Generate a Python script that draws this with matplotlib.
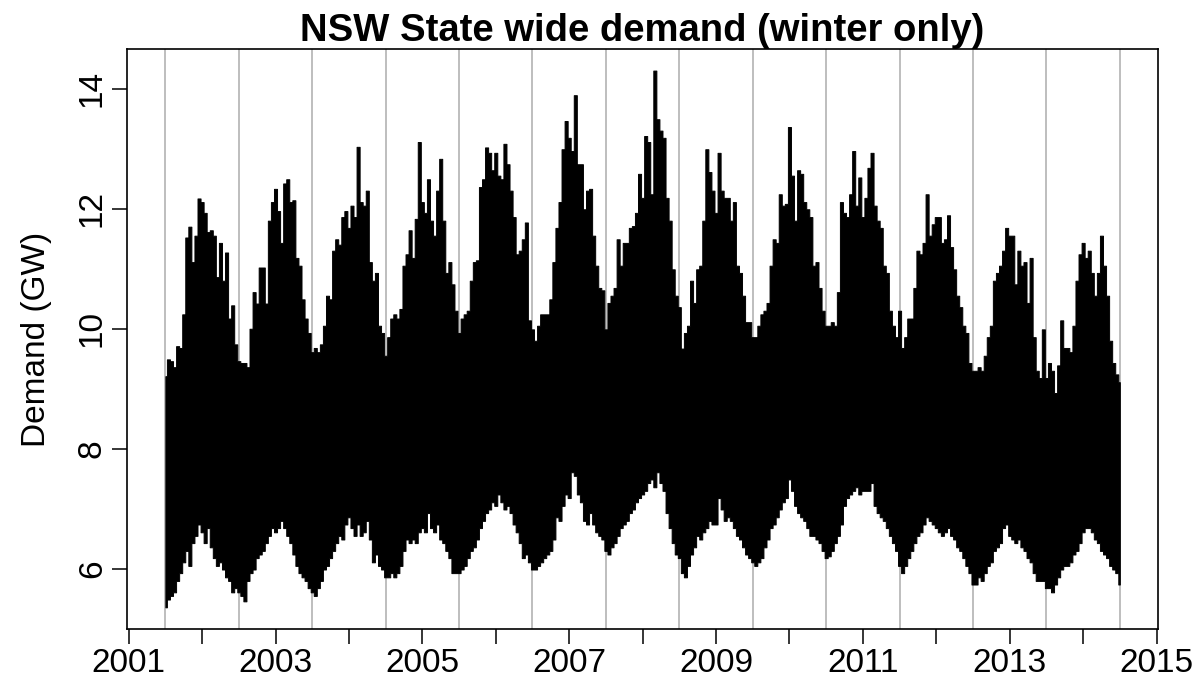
import matplotlib
matplotlib.use("Agg")
import matplotlib.pyplot as plt
import numpy as np

plt.rcParams["font.family"] = ["Liberation Sans", "DejaVu Sans"]

# half-monthly envelope of the demand series (GW)
START_YEAR = 2001.5
STEP = 1 / 24

upper_gw = [
    9.21, 9.49, 9.46, 9.36, 9.71, 9.68, 10.24, 11.52, 11.70, 11.11, 11.55, 12.17, 12.11, 11.93, 11.61, 11.64, 11.55, 10.86, 11.43, 10.80, 11.27, 10.17, 10.39, 9.74,
    9.46, 9.43, 9.43, 9.36, 10.00, 10.61, 10.42, 11.02, 11.02, 10.42, 11.80, 12.11, 12.33, 11.96, 11.43, 12.42, 12.49, 12.11, 12.14, 11.18, 11.05, 10.49, 10.17, 9.93,
    9.61, 9.68, 9.61, 9.74, 10.05, 10.55, 10.49, 11.30, 11.49, 11.40, 11.86, 11.96, 11.68, 12.05, 11.86, 13.03, 12.11, 12.05, 12.30, 11.11, 10.80, 10.93, 10.05, 9.93,
    9.55, 9.86, 10.17, 10.24, 10.17, 10.33, 11.05, 11.24, 11.64, 11.18, 11.83, 13.11, 12.11, 11.93, 12.49, 11.80, 11.55, 12.30, 12.83, 11.80, 10.93, 11.11, 10.74, 10.30,
    9.93, 10.17, 10.24, 10.30, 10.80, 11.11, 11.14, 12.36, 12.49, 13.02, 12.93, 12.64, 12.93, 12.55, 12.49, 13.08, 12.74, 12.30, 11.86, 11.24, 11.30, 11.49, 11.77, 10.14,
    9.99, 9.80, 10.05, 10.24, 10.24, 10.24, 10.49, 11.11, 11.68, 12.11, 12.99, 13.46, 13.18, 12.96, 13.89, 12.74, 12.74, 11.99, 12.30, 12.33, 11.55, 11.05, 10.68, 10.64,
    9.99, 10.43, 10.55, 10.68, 11.49, 11.05, 11.43, 11.43, 11.68, 11.71, 11.93, 12.58, 12.18, 13.21, 13.11, 12.24, 14.30, 13.49, 13.30, 13.18, 12.18, 11.80, 10.99, 10.55,
    10.36, 9.67, 9.93, 10.05, 10.80, 10.43, 10.99, 11.05, 11.80, 12.99, 12.61, 12.30, 11.93, 12.93, 12.30, 12.18, 12.18, 11.80, 12.11, 11.05, 10.93, 10.55, 10.11, 10.11,
    9.86, 9.86, 10.05, 10.24, 10.30, 10.43, 11.05, 11.49, 11.43, 12.24, 12.05, 12.08, 13.36, 12.55, 11.80, 12.64, 12.58, 12.11, 11.99, 11.86, 11.05, 11.11, 10.68, 10.30,
    10.05, 10.05, 10.11, 10.05, 10.61, 12.11, 11.93, 11.86, 12.24, 12.96, 12.05, 12.52, 11.86, 12.18, 12.68, 12.93, 12.05, 11.80, 11.68, 11.05, 10.93, 10.30, 10.05, 9.86,
    10.30, 9.68, 9.86, 10.17, 10.17, 10.68, 11.30, 11.24, 11.43, 12.24, 11.55, 11.74, 11.86, 11.86, 11.43, 11.49, 11.89, 11.36, 10.99, 10.55, 10.36, 10.05, 9.93, 9.43,
    9.30, 9.30, 9.36, 9.30, 9.55, 9.86, 10.05, 10.80, 10.93, 11.05, 11.30, 11.68, 11.55, 11.55, 10.74, 11.30, 11.05, 11.11, 10.43, 11.18, 9.86, 9.30, 9.18, 9.99,
    9.18, 9.43, 9.30, 8.93, 9.39, 10.14, 9.68, 9.68, 9.61, 10.05, 10.80, 11.24, 11.43, 11.18, 11.30, 10.93, 10.55, 10.93, 11.55, 11.05, 10.55, 9.80, 9.43, 9.24, 9.11,
]

lower_gw = [
    5.36, 5.49, 5.55, 5.61, 5.80, 5.93, 6.11, 6.30, 6.05, 6.43, 6.55, 6.74, 6.61, 6.43, 6.68, 6.36, 6.18, 6.05, 6.11, 5.99, 5.86, 5.80, 5.61, 5.68,
    5.61, 5.55, 5.46, 5.80, 5.93, 5.99, 6.18, 6.24, 6.30, 6.43, 6.55, 6.68, 6.61, 6.68, 6.80, 6.68, 6.55, 6.43, 6.24, 6.05, 5.93, 5.86, 5.80, 5.68,
    5.61, 5.55, 5.68, 5.80, 5.99, 6.05, 6.18, 6.30, 6.43, 6.55, 6.49, 6.74, 6.86, 6.68, 6.55, 6.74, 6.55, 6.61, 6.80, 6.49, 6.11, 6.24, 6.05, 5.99,
    5.86, 5.86, 5.93, 5.86, 5.93, 6.05, 6.30, 6.49, 6.43, 6.49, 6.43, 6.61, 6.68, 6.61, 6.93, 6.68, 6.61, 6.74, 6.49, 6.43, 6.30, 6.18, 5.93, 5.93,
    5.93, 5.99, 6.05, 6.18, 6.30, 6.36, 6.49, 6.68, 6.80, 6.93, 6.99, 7.11, 7.05, 7.24, 7.11, 6.99, 7.05, 6.93, 6.74, 6.61, 6.43, 6.18, 6.24, 6.11,
    5.99, 5.99, 6.05, 6.11, 6.18, 6.24, 6.30, 6.49, 6.86, 6.80, 7.05, 7.24, 7.18, 7.61, 7.55, 7.24, 7.11, 6.80, 6.74, 6.93, 6.74, 6.61, 6.55, 6.49,
    6.30, 6.24, 6.36, 6.43, 6.55, 6.68, 6.74, 6.80, 6.93, 6.99, 7.11, 7.18, 7.24, 7.30, 7.43, 7.49, 7.36, 7.61, 7.43, 7.30, 6.93, 6.68, 6.43, 6.24,
    6.18, 5.93, 5.86, 6.05, 6.24, 6.36, 6.55, 6.49, 6.61, 6.68, 6.80, 6.74, 6.74, 7.18, 6.99, 6.80, 6.86, 6.80, 6.68, 6.55, 6.49, 6.36, 6.24, 6.18,
    6.11, 6.05, 6.11, 6.18, 6.36, 6.49, 6.68, 6.74, 6.86, 6.99, 7.11, 7.18, 7.49, 7.30, 7.05, 6.93, 6.86, 6.80, 6.68, 6.55, 6.55, 6.49, 6.43, 6.30,
    6.18, 6.21, 6.30, 6.43, 6.55, 6.74, 7.05, 7.18, 7.24, 7.30, 7.36, 7.24, 7.30, 7.30, 7.30, 7.43, 7.05, 6.93, 6.86, 6.80, 6.68, 6.55, 6.43, 6.30,
    6.05, 5.93, 6.05, 6.18, 6.30, 6.43, 6.55, 6.61, 6.74, 6.86, 6.80, 6.74, 6.68, 6.61, 6.55, 6.61, 6.68, 6.55, 6.49, 6.36, 6.30, 6.18, 6.05, 5.93,
    5.74, 5.74, 5.86, 5.80, 5.93, 6.05, 6.11, 6.30, 6.36, 6.43, 6.68, 6.74, 6.55, 6.49, 6.43, 6.49, 6.36, 6.30, 6.18, 6.11, 5.93, 5.80, 5.80, 5.80,
    5.68, 5.68, 5.61, 5.74, 5.86, 5.99, 6.05, 6.05, 6.11, 6.24, 6.30, 6.43, 6.61, 6.68, 6.68, 6.61, 6.49, 6.43, 6.30, 6.24, 6.18, 6.05, 5.99, 5.93, 5.74,
]

winter_marks = [2001.5 + i for i in range(14)]
year_ticks = list(range(2001, 2016))
year_labels = [str(y) if y % 2 == 1 else "" for y in year_ticks]
demand_ticks = [6, 8, 10, 12, 14]

t = START_YEAR + STEP * np.arange(len(upper_gw))
upper = np.array(upper_gw)
lower = np.array(lower_gw)

fig = plt.figure(figsize=(12, 6.82), dpi=100)
ax = fig.add_axes([0.106, 0.078, 0.859, 0.850])

for x in winter_marks:
    ax.axvline(x, color="#bebebe", lw=1.4, zorder=1)

# stepped fill keeps the spiky, bar-like look of the dense half-hourly trace
ax.fill_between(t, lower, upper, step="mid", color="black", lw=0.7, zorder=2)

# R-style 4% padding around the data range
xr = t[-1] - t[0]
yr = upper.max() - lower.min()
ax.set_xlim(t[0] - 0.04 * xr, t[-1] + 0.04 * xr)
ax.set_ylim(lower.min() - 0.04 * yr, upper.max() + 0.04 * yr)

ax.set_xticks(year_ticks)
ax.set_xticklabels(year_labels)
ax.set_yticks(demand_ticks)
ax.set_yticklabels([str(v) for v in demand_ticks], rotation=90, va="center")
ax.tick_params(axis="both", direction="out", length=11, width=1.1,
               labelsize=24, pad=3)

for s in ax.spines.values():
    s.set_linewidth(1.2)

ax.set_ylabel("Demand (GW)", fontsize=24, labelpad=18)
ax.set_title("NSW State wide demand (winter only)", fontsize=27.5,
             fontweight="bold", pad=4)

fig.savefig("out.png", dpi=100)
